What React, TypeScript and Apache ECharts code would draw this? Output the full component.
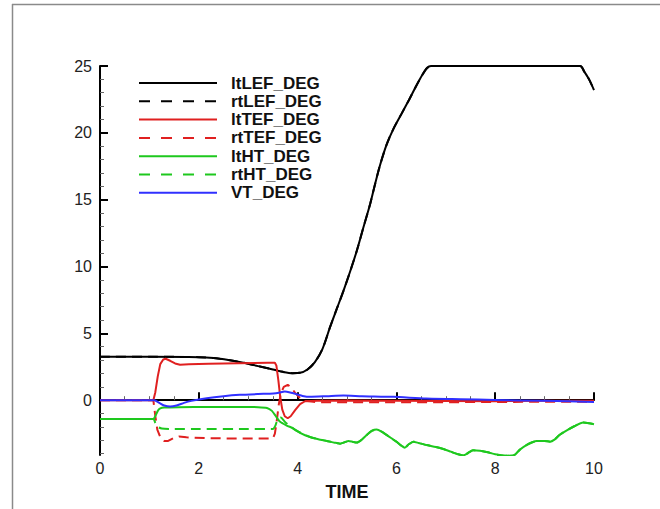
import React, { useEffect, useRef } from "react";
import * as echarts from "echarts";

const ltLEF: number[][] = [
  [0, 3.25], [1, 3.25], [2, 3.22], [2.3, 3.15], [2.6, 3.0], [2.9, 2.8], [3.2, 2.55], [3.5, 2.3],
  [3.7, 2.12], [3.9, 2.02], [4.05, 2.05], [4.2, 2.3], [4.35, 2.85], [4.5, 3.8], [4.66, 5.5],
  [4.8, 6.9], [4.93, 8.2], [5.07, 9.7], [5.2, 11.2], [5.33, 12.9], [5.47, 14.7], [5.57, 16.2],
  [5.67, 17.6], [5.8, 19.1], [5.94, 20.3], [6.1, 21.4], [6.26, 22.5], [6.4, 23.5], [6.52, 24.3],
  [6.62, 24.85], [6.7, 25], [9.72, 25], [9.8, 24.6], [9.9, 24.0], [10, 23.2],
];
const rtLEF: number[][] = ltLEF;

const ltTEF: number[][] = [
  [0, 0], [1.08, 0], [1.12, 0.6], [1.17, 1.8], [1.22, 2.7], [1.28, 3.05], [1.33, 3.1], [1.42, 2.95],
  [1.52, 2.75], [1.62, 2.65], [1.8, 2.68], [2.2, 2.72], [2.8, 2.76], [3.4, 2.8], [3.54, 2.8],
  [3.57, 2.6], [3.61, 1.5], [3.65, 0.2], [3.69, -0.7], [3.74, -1.2], [3.8, -1.35], [3.86, -1.2],
  [3.95, -0.75], [4.05, -0.3], [4.15, -0.08], [4.4, -0.05], [5, -0.03], [6, -0.05], [7, -0.06],
  [8, -0.07], [9, -0.05], [10, -0.05],
];

const rtTEF: number[][] = [
  [0, 0], [1.08, 0], [1.12, -1.2], [1.16, -2.2], [1.22, -2.75], [1.3, -3.05], [1.38, -3.05],
  [1.48, -2.85], [1.6, -2.72], [1.75, -2.78], [2.2, -2.85], [3, -2.87], [3.5, -2.87], [3.54, -2.5],
  [3.58, -1.5], [3.62, -0.3], [3.66, 0.5], [3.72, 1.0], [3.8, 1.15], [3.86, 1.0], [3.95, 0.55],
  [4.05, 0.15], [4.15, -0.05], [4.4, -0.15], [5, -0.15], [6, -0.15], [7, -0.15], [8, -0.13],
  [9, -0.12], [10, -0.12],
];

const ltHT: number[][] = [
  [0, -1.4], [1.08, -1.4], [1.12, -1.2], [1.17, -0.8], [1.22, -0.62], [1.3, -0.55], [1.6, -0.52],
  [2.2, -0.5], [2.8, -0.5], [3.2, -0.52], [3.38, -0.58], [3.48, -0.8], [3.56, -1.2], [3.64, -1.6],
  [3.78, -1.9], [3.91, -2.1], [4.08, -2.5], [4.25, -2.75], [4.42, -2.92], [4.59, -3.05],
  [4.75, -3.18], [4.86, -3.25], [4.95, -3.15], [5.03, -3.05], [5.12, -3.12], [5.2, -3.17],
  [5.3, -2.95], [5.4, -2.6], [5.5, -2.3], [5.6, -2.2], [5.7, -2.35], [5.8, -2.6], [5.9, -2.85],
  [6.0, -3.1], [6.1, -3.4], [6.17, -3.55], [6.25, -3.3], [6.34, -3.1], [6.45, -3.2], [6.61, -3.35],
  [6.8, -3.5], [6.95, -3.65], [7.1, -3.85], [7.25, -4.05], [7.36, -4.12], [7.45, -3.95],
  [7.55, -3.75], [7.69, -3.78], [7.85, -3.9], [8.0, -4.05], [8.2, -4.15], [8.38, -4.12],
  [8.5, -3.7], [8.64, -3.35], [8.75, -3.15], [8.84, -3.05], [9.0, -3.05], [9.11, -3.1],
  [9.2, -2.95], [9.3, -2.6], [9.45, -2.25], [9.6, -1.95], [9.78, -1.67], [9.9, -1.72], [10, -1.8],
];

const rtHTStart: number[][] = [
  [0, -1.4], [1.08, -1.4], [1.12, -1.7], [1.17, -2.0], [1.25, -2.12], [1.4, -2.15], [2, -2.15],
  [3, -2.15], [3.5, -2.15], [3.55, -1.9], [3.6, -1.4], [3.66, -1.3], [3.75, -1.65], [3.85, -1.95],
  [3.98, -2.3], [4.1, -2.5], [4.25, -2.75],
];
const rtHT: number[][] = [...rtHTStart, ...ltHT.filter((p) => p[0] > 4.25)];

const VT: number[][] = [
  [0, 0], [1.1, 0], [1.2, -0.2], [1.3, -0.4], [1.42, -0.48], [1.55, -0.4], [1.7, -0.2],
  [1.85, -0.05], [2.16, 0.15], [2.5, 0.3], [2.83, 0.4], [3.2, 0.46], [3.51, 0.5], [3.62, 0.55],
  [3.74, 0.65], [3.85, 0.58], [3.98, 0.45], [4.1, 0.32], [4.25, 0.25], [4.6, 0.3], [4.93, 0.35],
  [5.3, 0.3], [5.94, 0.25], [6.6, 0.12], [7.3, 0.07], [8, 0.02], [9, -0.05], [10, -0.13],
];

const xTicks = { min: 0, max: 10, interval: 2 };
const yMajor = [0, 5, 10, 15, 20, 25];
const yMinor = [-4, -3, -2, -1, 1, 2, 3, 4, 6, 7, 8, 9, 11, 12, 13, 14, 16, 17, 18, 19, 21, 22, 23, 24];
const yRange = { min: -4.1, max: 25 };

const BLACK = "#000000";
const RED = "#e02020";
const GREEN = "#1ec81e";
const BLUE = "#3030ff";

const seriesDefs = [
  { name: "ltLEF_DEG", data: ltLEF, color: BLACK, dashed: false, smooth: 0.3 },
  { name: "rtLEF_DEG", data: rtLEF, color: BLACK, dashed: true, smooth: 0.3 },
  { name: "ltTEF_DEG", data: ltTEF, color: RED, dashed: false, smooth: false },
  { name: "rtTEF_DEG", data: rtTEF, color: RED, dashed: true, smooth: false },
  { name: "ltHT_DEG", data: ltHT, color: GREEN, dashed: false, smooth: 0.2 },
  { name: "rtHT_DEG", data: rtHT, color: GREEN, dashed: true, smooth: 0.2 },
  { name: "VT_DEG", data: VT, color: BLUE, dashed: false, smooth: 0.2 },
];

const drawOrder = [1, 0, 3, 2, 5, 4, 6];

export default function App() {
  const ref = useRef<HTMLDivElement>(null);
  useEffect(() => {
    if (!ref.current) return;
    const chart = echarts.init(ref.current, undefined, { renderer: "svg" });
    const font = "'Liberation Sans', Arial, sans-serif";

    const legendEls: any[] = [];
    seriesDefs.forEach((s, i) => {
      const y = 83 + i * 18.3;
      legendEls.push({
        type: "line",
        shape: { x1: 139, y1: y, x2: 217, y2: y },
        style: { stroke: s.color, lineWidth: 2, lineDash: s.dashed ? [11, 11] : null },
      });
      legendEls.push({
        type: "text",
        x: 231,
        y: y,
        style: {
          text: s.name,
          font: `bold 17px ${font}`,
          fill: "#111",
          textVerticalAlign: "middle",
          verticalAlign: "middle",
        },
      });
    });

    chart.setOption({
      animation: false,
      backgroundColor: "#ffffff",
      grid: { left: 100, right: 66, top: 66, bottom: 54, containLabel: false },
      xAxis: {
        type: "value",
        min: xTicks.min,
        max: xTicks.max,
        interval: xTicks.interval,
        name: "TIME",
        nameLocation: "middle",
        nameGap: 28,
        nameTextStyle: { fontFamily: font, fontWeight: "bold", fontSize: 18, color: "#111" },
        axisLine: { show: true, lineStyle: { color: "#000", width: 2 } },
        axisTick: { show: true, inside: true, length: 8, lineStyle: { color: "#000", width: 2 } },
        minorTick: { show: true, splitNumber: 4, length: 4, lineStyle: { color: "#666", width: 1 } },
        axisLabel: { fontFamily: font, fontSize: 16, color: "#222", margin: 5 },
        splitLine: { show: false },
        minorSplitLine: { show: false },
      },
      yAxis: [
        {
          type: "value",
          min: yRange.min,
          max: yRange.max,
          position: "left",
          axisLine: { show: true, onZero: false, lineStyle: { color: "#000", width: 2 } },
          axisTick: { show: true, inside: true, length: 8, customValues: yMajor, lineStyle: { color: "#000", width: 2 } },
          axisLabel: { fontFamily: font, fontSize: 16, color: "#222", margin: 8, customValues: yMajor },
          splitLine: { show: false },
        },
        {
          type: "value",
          min: yRange.min,
          max: yRange.max,
          position: "left",
          axisLine: { show: false },
          axisTick: { show: true, inside: true, length: 4, customValues: yMinor, lineStyle: { color: "#666", width: 1 } },
          axisLabel: { show: false },
          splitLine: { show: false },
        },
      ],
      series: drawOrder.map((idx) => {
        const s = seriesDefs[idx];
        return {
          name: s.name,
          type: "line",
          data: s.data,
          yAxisIndex: 0,
          showSymbol: false,
          symbol: "none",
          smooth: s.smooth,
          clip: true,
          lineStyle: { color: s.color, width: 2, type: s.dashed ? [10, 6] : "solid" },
          itemStyle: { color: s.color },
          silent: true,
        };
      }),
      graphic: [
        { type: "line", shape: { x1: 12, y1: 4.5, x2: 660, y2: 4.5 }, style: { stroke: "#8a8a8a", lineWidth: 1.5 } },
        { type: "line", shape: { x1: 12.5, y1: 4, x2: 12.5, y2: 509 }, style: { stroke: "#8a8a8a", lineWidth: 1.5 } },
        ...legendEls,
      ],
    });
    return () => chart.dispose();
  }, []);
  return (
    <div
      ref={ref}
      style={{ position: "absolute", left: 0, top: 0, width: 660, height: 509, background: "#fff" }}
    />
  );
}
